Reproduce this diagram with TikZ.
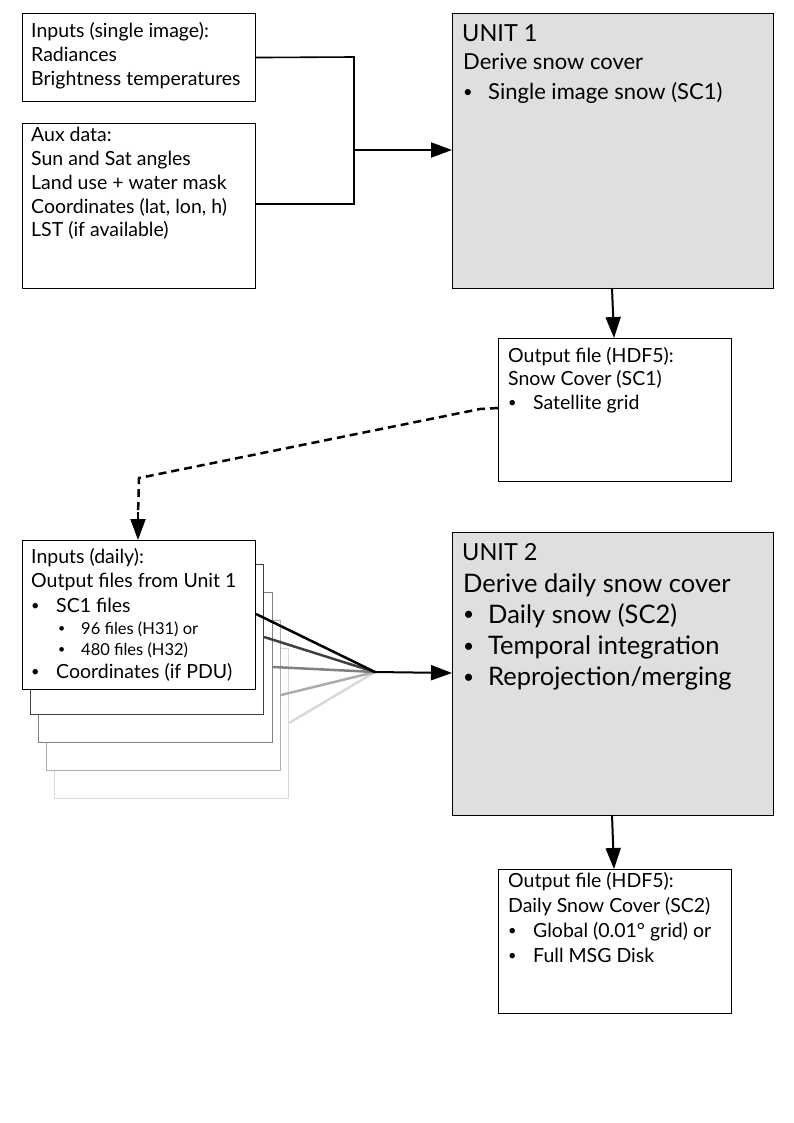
\documentclass[tikz,border=0pt]{standalone}
\usepackage{fontspec}
\setmainfont{Lato}
\usetikzlibrary{arrows.meta,calc}
\newcommand{\dotb}{\raisebox{0.1em}{\scalebox{0.75}{•}}}
\newcommand{\bul}[1]{\makebox[25pt][l]{\dotb}#1}
\newcommand{\sbul}[1]{\makebox[23pt][l]{\dotb}#1}
\begin{document}
\begin{tikzpicture}[x=1pt,y=-1pt,
  box/.style={draw=black,line width=1.1pt,anchor=north west,inner sep=0pt,fill=white},
  unitbox/.style={box,fill=gray!25!white},
  txt/.style={anchor=base west,inner sep=0pt,align=left},
  conn/.style={line width=2pt,-{Triangle[length=21pt,width=15pt]}},
  fan/.style={line width=2.5pt}]
\useasboundingbox[fill=white] (0,0) rectangle (794,1123);
% top inputs
\node[box,minimum width=233pt,minimum height=88pt] (inA) at (22,13) {};
\node[box,minimum width=233pt,minimum height=165pt] (inB) at (22,123) {};
\node[unitbox,minimum width=321pt,minimum height=275pt] (u1) at (452,13) {};
\node[box,minimum width=233pt,minimum height=143pt] (o1) at (498,338) {};
% stacked daily inputs
\node[box,draw=gray!30,minimum width=234pt,minimum height=150pt] (s5) at (54,648) {};
\node[box,draw=gray!65,minimum width=234pt,minimum height=150pt] (s4) at (46,620) {};
\node[box,draw=gray!100,minimum width=234pt,minimum height=150pt] (s3) at (38,592) {};
\node[box,draw=black!75,minimum width=233pt,minimum height=150pt] (s2) at (30,564) {};
\node[box,minimum width=233pt,minimum height=149pt] (s1) at (22,540) {};
\node[unitbox,minimum width=321pt,minimum height=283pt] (u2) at (452,532) {};
\node[box,minimum width=233pt,minimum height=144pt] (o2) at (498,869) {};
% texts (anchor = baseline of last line)
\node[txt,font=\fontsize{19.5}{23.7}\selectfont] (tA) at (31,85.4) {Inputs (single image):\\Radiances\\Brightness temperatures};
\node[txt,font=\fontsize{19.5}{23.7}\selectfont] (tB) at (31,236.8) {Aux data:\\Sun and Sat angles\\Land use + water mask\\Coordinates (lat, lon, h)\\LST (if available)};
\node[txt,font=\fontsize{23.5}{28}\selectfont] (tU1a) at (462,42) {UNIT 1};
\node[txt,font=\fontsize{22}{30}\selectfont] (tU1b) at (463,100) {Derive snow cover\\\bul{Single image snow (SC1)}};
\node[txt,font=\fontsize{19.5}{23.7}\selectfont] (tO1) at (508,409.4) {Output file (HDF5):\\Snow Cover (SC1)\\\bul{Satellite grid}};
\node[txt,font=\fontsize{19.5}{24.5}\selectfont] (tD1) at (31,612) {Inputs (daily):\\Output files from Unit 1\\\bul{SC1 files}};
\node[txt,font=\fontsize{16.5}{21}\selectfont] (tD2) at (58,655) {\sbul{96 files (H31) or}\\\sbul{480 files (H32)}};
\node[txt,font=\fontsize{19.5}{23.7}\selectfont] (tD3) at (31,678) {\bul{Coordinates (if PDU)}};
\node[txt,font=\fontsize{23.5}{28}\selectfont] (tU2a) at (462,560) {UNIT 2};
\node[txt,font=\fontsize{25.5}{31.3}\selectfont] (tU2b) at (463,685.9) {Derive daily snow cover\\\bul{Daily snow (SC2)}\\\bul{Temporal integration}\\\bul{Reprojection/merging}};
\node[txt,font=\fontsize{19.5}{25}\selectfont] (tO2) at (508,962) {Output file (HDF5):\\Daily Snow Cover (SC2)\\\bul{Global (0.01\textdegree{} grid) or}\\\bul{Full MSG Disk}};
% connectors top
\coordinate (j) at (354,150);
\draw[line width=1.6pt] (inA.east) -- (354,57) -- (354,204) -- (inB.north east |- 0,204);
\draw[conn] (j) -- (u1.west |- j);
\draw[conn] (612,288) -- (614,338);
% dashed
\coordinate (d1) at (480,409);
\coordinate (d2) at (139,478);
\draw[line width=2.5pt,dash pattern=on 8pt off 5pt] (o1.west |- 0,408) -- (d1) -- (d2) -- (138,515);
\draw[conn] (138,512) -- (138,540);
% fan
\coordinate (f) at (375,672);
\draw[fan,draw=gray!30] (s5.east |- 0,723) -- (f);
\draw[fan,draw=gray!65] (s4.east |- 0,695) -- (f);
\draw[fan,draw=gray!100] (s3.east |- 0,667) -- (f);
\draw[fan,draw=black!75] (s2.east |- 0,637) -- (f);
\draw[fan,draw=black] (s1.east |- 0,614) -- (f);
\draw[conn] (f) -- (u2.west |- 0,673);
\draw[conn] (612,815) -- (614,869);
\end{tikzpicture}
\end{document}
